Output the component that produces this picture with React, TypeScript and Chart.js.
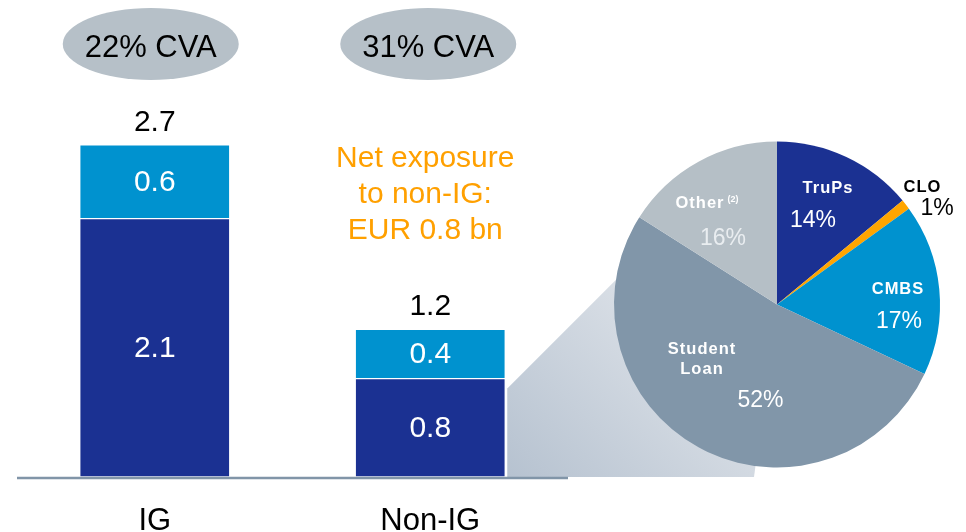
import React, { useEffect, useRef } from 'react';
import { Chart, registerables } from 'chart.js';

Chart.register(...registerables);

// ---------- data ----------
const categories = ['IG', 'Non-IG'];
const baseValues = [2.1, 0.8];
const topValues = [0.6, 0.4];
const cvaLabels = ['22% CVA', '31% CVA'];
const noteLines = ['Net exposure', 'to non-IG:', 'EUR 0.8 bn'];

const pieLabels = ['TruPs', 'CLO', 'CMBS', 'Student\nLoan', 'Other'];
const pieNotes = ['', '', '', '', '(2)'];
const pieValues = [14, 1, 17, 52, 16];

// ---------- layout / style ----------
const W = 966;
const H = 532;
const FONT = '"Liberation Sans", Arial, sans-serif';
const DARK = '#1B3192';
const LIGHT = '#0092CF';
const ORANGE = '#FFA000';
const ELLIPSE = '#B6C0C8';
const AXIS = '#8195A8';
const pieColors = ['#1B3192', '#FFA500', '#0092CF', '#8196A9', '#B5BFC6'];
const pieNameColors = ['#ffffff', '#000000', '#ffffff', '#ffffff', '#ffffff'];
const piePctColors = ['#ffffff', '#000000', '#ffffff', '#ffffff', '#E9EDF0'];
// label offsets relative to pie center (px, for radius 163)
const pieNamePos = [[51, -116.5], [145.5, -117.5], [121, -15], [-75, 44.5], [-77, -101.5]];
const piePctPos = [[36, -84.5], [160, -96.5], [122, 16.5], [-16.5, 95.5], [-54, -66.5]];

const PIE_CX = 777;
const PIE_CY = 304.5;
const PIE_R = 163;

const AREA_LEFT = 17;
const AREA_RIGHT = 568;
const AREA_BOTTOM = 477;
const Y_MAX = 3.8;
const PX_PER_UNIT = 123;

const barPlugin = {
  id: 'barDecor',
  beforeDatasetsDraw(chart: any) {
    const ctx = chart.ctx;
    const area = chart.chartArea;
    const el = chart.getDatasetMeta(0).data[1];
    const left = el.x + el.width / 2 + 2;
    const topY = el.y + 10;
    const bottom = area.bottom;
    ctx.save();
    const g = ctx.createLinearGradient(left, bottom, left + 220, bottom - 220);
    g.addColorStop(0, '#B6C2D0');
    g.addColorStop(1, '#E8EBEF');
    ctx.fillStyle = g;
    ctx.beginPath();
    ctx.moveTo(left, topY);
    ctx.lineTo(left + 110, topY - 110);
    ctx.lineTo(PIE_CX, PIE_CY);
    ctx.lineTo(PIE_CX - 23, bottom);
    ctx.lineTo(left, bottom);
    ctx.closePath();
    ctx.fill();
    ctx.restore();
  },
  afterDatasetsDraw(chart: any) {
    const ctx = chart.ctx;
    const area = chart.chartArea;
    ctx.save();
    // axis line
    ctx.strokeStyle = AXIS;
    ctx.lineWidth = 2.5;
    ctx.beginPath();
    ctx.moveTo(area.left, area.bottom + 1);
    ctx.lineTo(area.right, area.bottom + 1);
    ctx.stroke();

    const meta0 = chart.getDatasetMeta(0);
    const meta1 = chart.getDatasetMeta(1);
    ctx.textAlign = 'center';
    // segment labels
    ctx.font = `30px ${FONT}`;
    ctx.fillStyle = '#ffffff';
    ctx.textBaseline = 'middle';
    [meta0, meta1].forEach((meta: any, di: number) => {
      const vals = di === 0 ? baseValues : topValues;
      meta.data.forEach((b: any, i: number) => {
        ctx.fillText(vals[i].toFixed(1), b.x, (b.y + b.base) / 2 + 1);
      });
    });
    // totals, categories, ellipses
    ctx.textBaseline = 'alphabetic';
    meta1.data.forEach((b: any, i: number) => {
      const total = baseValues[i] + topValues[i];
      ctx.fillStyle = '#000000';
      ctx.font = `30px ${FONT}`;
      ctx.fillText(total.toFixed(1), b.x, b.y - 14);
      ctx.font = `31px ${FONT}`;
      ctx.fillText(categories[i], b.x, area.bottom + 53);
      // CVA ellipse
      const ex = b.x - 4 + i * 2;
      ctx.fillStyle = ELLIPSE;
      ctx.beginPath();
      ctx.ellipse(ex, 44, 88, 36, 0, 0, Math.PI * 2);
      ctx.fill();
      ctx.fillStyle = '#000000';
      ctx.font = `31px ${FONT}`;
      ctx.fillText(cvaLabels[i], ex, 57);
    });
    // orange note
    const nb = meta1.data[1];
    ctx.fillStyle = ORANGE;
    ctx.font = `30px ${FONT}`;
    noteLines.forEach((line, k) => {
      ctx.fillText(line, nb.x - 5, 167 + k * 36);
    });
    ctx.restore();
  },
};

const piePlugin = {
  id: 'pieLabels',
  afterDatasetsDraw(chart: any) {
    const ctx = chart.ctx;
    const arcs = chart.getDatasetMeta(0).data;
    if (!arcs.length) return;
    const cx = arcs[0].x;
    const cy = arcs[0].y;
    const k = arcs[0].outerRadius / PIE_R;
    ctx.save();
    ctx.textAlign = 'center';
    ctx.textBaseline = 'middle';
    pieLabels.forEach((name, i) => {
      const [nx, ny] = pieNamePos[i];
      const [px, py] = piePctPos[i];
      ctx.fillStyle = pieNameColors[i];
      ctx.font = `bold 16.5px ${FONT}`;
      (ctx as any).letterSpacing = '1px';
      const lines = name.split('\n');
      lines.forEach((ln, j) => {
        ctx.fillText(ln, cx + nx * k, cy + ny * k + j * 20);
      });
      (ctx as any).letterSpacing = '0px';
      if (pieNotes[i]) {
        (ctx as any).letterSpacing = '1px';
        const w = ctx.measureText(lines[0]).width;
        (ctx as any).letterSpacing = '0px';
        ctx.font = `bold 9px ${FONT}`;
        ctx.textAlign = 'left';
        ctx.fillText(pieNotes[i], cx + nx * k + w / 2 + 3, cy + ny * k - 3);
        ctx.textAlign = 'center';
      }
      ctx.fillStyle = piePctColors[i];
      ctx.font = `23px ${FONT}`;
      ctx.fillText(`${pieValues[i]}%`, cx + px * k, cy + py * k + 1);
    });
    ctx.restore();
  },
};

export default function App() {
  const barRef = useRef<HTMLCanvasElement | null>(null);
  const pieRef = useRef<HTMLCanvasElement | null>(null);

  useEffect(() => {
    if (!barRef.current || !pieRef.current) return;
    const bar = new Chart(barRef.current, {
      type: 'bar',
      data: {
        labels: categories,
        datasets: [
          {
            data: baseValues,
            backgroundColor: DARK,
            borderColor: '#ffffff',
            borderWidth: 1,
            borderSkipped: false,
            barThickness: 150,
          },
          {
            data: topValues,
            backgroundColor: LIGHT,
            borderColor: '#ffffff',
            borderWidth: 1,
            borderSkipped: false,
            barThickness: 150,
          },
        ],
      },
      options: {
        animation: false,
        responsive: false,
        events: [],
        layout: {
          padding: {
            left: AREA_LEFT,
            right: W - AREA_RIGHT,
            top: AREA_BOTTOM - Y_MAX * PX_PER_UNIT,
            bottom: H - AREA_BOTTOM,
          },
        },
        scales: {
          x: { display: false, stacked: true },
          y: { display: false, stacked: true, min: 0, max: Y_MAX },
        },
        plugins: { legend: { display: false }, tooltip: { enabled: false } },
      },
      plugins: [barPlugin],
    } as any);

    const pie = new Chart(pieRef.current, {
      type: 'pie',
      data: {
        labels: pieLabels,
        datasets: [{ data: pieValues, backgroundColor: pieColors, borderWidth: 0 }],
      },
      options: {
        animation: false,
        responsive: false,
        events: [],
        layout: {
          padding: {
            left: PIE_CX - PIE_R,
            right: W - PIE_CX - PIE_R,
            top: PIE_CY - PIE_R,
            bottom: H - PIE_CY - PIE_R,
          },
        },
        plugins: { legend: { display: false }, tooltip: { enabled: false } },
      },
      plugins: [piePlugin],
    } as any);

    return () => {
      bar.destroy();
      pie.destroy();
    };
  }, []);

  const cstyle: React.CSSProperties = { position: 'absolute', left: 0, top: 0, width: W, height: H };
  return (
    <div style={{ position: 'absolute', left: 0, top: 0, width: W, height: H, background: '#ffffff' }}>
      <canvas ref={barRef} width={W} height={H} style={cstyle} />
      <canvas ref={pieRef} width={W} height={H} style={cstyle} />
    </div>
  );
}
